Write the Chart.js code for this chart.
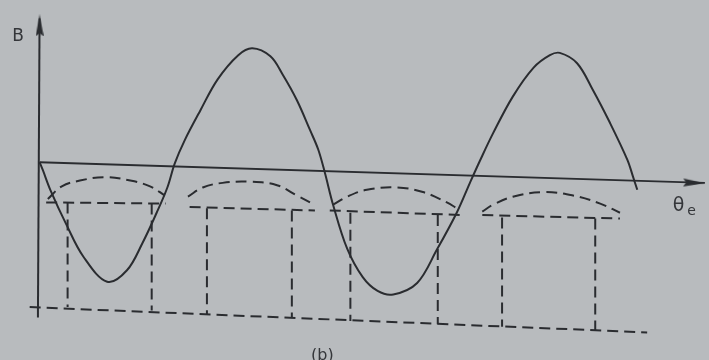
<!DOCTYPE html>
<html>
<head>
<meta charset="utf-8">
<script src="https://cdn.jsdelivr.net/npm/chart.js@4"></script>
<style>
    html, body { margin: 0; padding: 0; background: #b8bbbe; }
    #wrap { width: 709px; height: 360px; position: relative; }
</style>
</head>
<body>
<div id="wrap"><canvas id="myChart"></canvas></div>
<script>
// Flux density B against electrical angle (degrees)
const sineTheta = [0, 4, 13, 33, 53, 82, 106, 125, 142, 155, 164, 176, 195, 216, 241, 258, 280, 295, 312, 328,
    338, 346, 356, 373, 392, 410, 429, 458, 482, 506, 522, 534, 550, 574, 599, 619, 631, 652, 671, 692, 713, 720, 725];
const sineB = [0, -0.07, -0.24, -0.55, -0.82, -1.04, -0.94, -0.70, -0.44, -0.22, -0.01, 0.19, 0.45, 0.72, 0.93, 0.99, 0.92, 0.76, 0.54, 0.28,
    0.11, -0.09, -0.37, -0.75, -1.00, -1.12, -1.15, -1.05, -0.76, -0.44, -0.18, 0.01, 0.25, 0.57, 0.82, 0.93, 0.95, 0.86, 0.63, 0.34, 0.02, -0.13, -0.24];

// axis lines (theta axis runs slightly downhill)
const thetaAxis = [[0, 0], [807, -0.18]];
const bAxis = [[-2, -1.35], [0, 1.25]];

// pole shoe outlines: arc over each pole face
const domeArcs = [
    [[10, -0.32], [27, -0.21], [49, -0.16], [79, -0.13], [110, -0.16], [134, -0.21], [152, -0.29]],
    [[180, -0.30], [198, -0.22], [222, -0.18], [255, -0.17], [288, -0.20], [312, -0.29], [328, -0.35]],
    [[356, -0.37], [373, -0.30], [397, -0.24], [434, -0.22], [465, -0.26], [494, -0.35], [506, -0.40]],
    [[537, -0.43], [550, -0.37], [574, -0.30], [611, -0.26], [647, -0.29], [680, -0.36], [704, -0.44]]
];
const domeBases = [
    [[8, -0.35], [153, -0.36]],
    [[182, -0.39], [334, -0.42]],
    [[352, -0.42], [514, -0.46]],
    [[537, -0.46], [704, -0.49]]
];
// pole bodies: theta, top B, bottom B
const postTheta = [34, 136, 203, 306, 377, 483, 561, 674];
const postTop = [-0.35, -0.36, -0.40, -0.42, -0.44, -0.46, -0.48, -0.49];
const postBottom = [-1.26, -1.29, -1.32, -1.35, -1.38, -1.41, -1.43, -1.46];
const yoke = [[-12, -1.26], [737, -1.48]];

const ink = '#2a2c30';
const dash = [11, 6];

function pts(list) {
    return list.map(p => ({ x: p[0], y: p[1] }));
}

function arrowHead(w, h, dir) {
    const c = document.createElement('canvas');
    c.width = w;
    c.height = h;
    const g = c.getContext('2d');
    g.fillStyle = ink;
    g.beginPath();
    if (dir === 'up') {
        g.moveTo(w / 2, 0);
        g.lineTo(w, h);
        g.lineTo(w / 2, h - 3);
        g.lineTo(0, h);
    } else {
        g.moveTo(w, h / 2);
        g.lineTo(0, 0);
        g.lineTo(3, h / 2);
        g.lineTo(0, h);
    }
    g.closePath();
    g.fill();
    return c;
}

function solid(data, extra) {
    return Object.assign({
        data: data,
        showLine: true,
        borderColor: ink,
        borderWidth: 2,
        pointRadius: 0,
        fill: false
    }, extra || {});
}

const datasets = [];
datasets.push(solid(sineTheta.map((t, i) => ({ x: t, y: sineB[i] })), { tension: 0.35 }));
datasets.push(solid(pts(thetaAxis)));
datasets.push(solid(pts(bAxis)));
domeArcs.forEach(a => datasets.push(solid(pts(a), { borderDash: dash, tension: 0.4 })));
domeBases.forEach(b => datasets.push(solid(pts(b), { borderDash: dash })));
postTheta.forEach((t, i) => {
    datasets.push(solid([{ x: t, y: postTop[i] }, { x: t, y: postBottom[i] }], { borderDash: dash }));
});
datasets.push(solid(pts(yoke), { borderDash: dash }));

// arrow tips on both axes
datasets.push({
    data: [{ x: 794, y: -0.18 }, { x: 0, y: 1.19 }],
    showLine: false,
    pointRadius: 4,
    pointStyle: [arrowHead(22, 8, 'right'), arrowHead(8, 22, 'up')],
    rotation: [2, 0]
});

const labels = [
    { text: 'B', x: -26, y: 1.09, size: 17 },
    { text: '(b)', x: 343, y: -1.68, size: 16 }
];

const textPlugin = {
    id: 'axisText',
    beforeDraw(chart) {
        const c = chart.ctx;
        c.save();
        c.fillStyle = '#b8bbbe';
        c.fillRect(0, 0, chart.width, chart.height);
        c.restore();
    },
    afterDatasetsDraw(chart) {
        const c = chart.ctx;
        const sx = chart.scales.x;
        const sy = chart.scales.y;
        c.save();
        c.fillStyle = '#34363a';
        c.textAlign = 'center';
        c.textBaseline = 'middle';
        labels.forEach(l => {
            c.font = l.size + 'px "DejaVu Sans", sans-serif';
            c.fillText(l.text, sx.getPixelForValue(l.x), sy.getPixelForValue(l.y));
        });
        // theta with subscript e
        const tx = sx.getPixelForValue(775);
        const ty = sy.getPixelForValue(-0.38);
        c.font = '19px "DejaVu Sans", sans-serif';
        c.fillText('θ', tx, ty);
        c.font = '14px "DejaVu Sans", sans-serif';
        c.fillText('e', tx + 13, ty + 5);
        c.restore();
    }
};

const ctx = document.getElementById('myChart').getContext('2d');
const myChart = new Chart(ctx, {
    type: 'scatter',
    data: { datasets: datasets },
    options: {
        responsive: true,
        maintainAspectRatio: false,
        animation: false,
        events: [],
        layout: { padding: 0, autoPadding: false },
        plugins: {
            legend: { display: false },
            tooltip: { enabled: false }
        },
        scales: {
            x: { type: 'linear', min: -48, max: 812, display: false },
            y: { type: 'linear', min: -1.72, max: 1.41, display: false }
        }
    },
    plugins: [textPlugin]
});
</script>
</body>
</html>
